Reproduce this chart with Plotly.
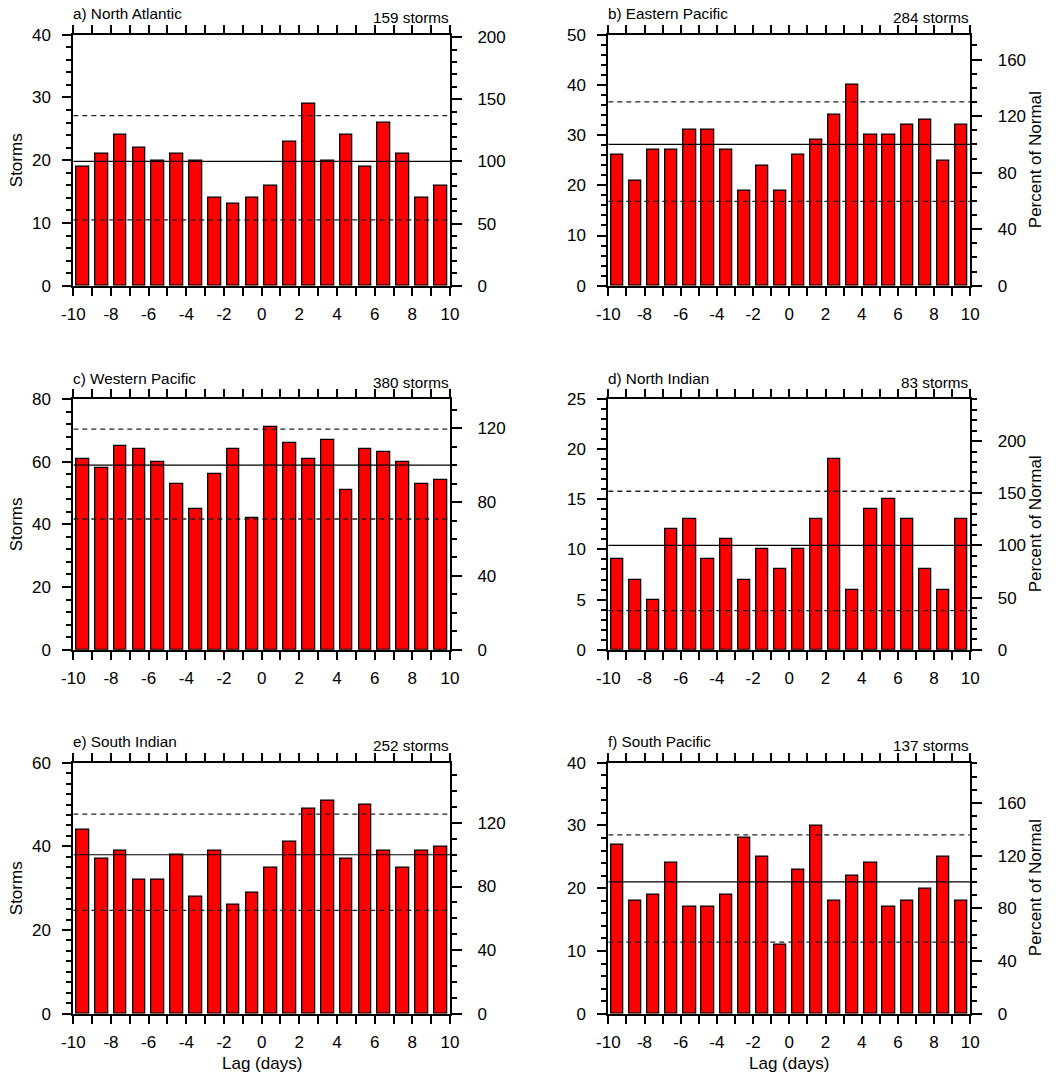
import plotly.graph_objects as go

# Lag bins (days) - each bar covers one day, centred on the half-day
lag_bins = [-9.5, -8.5, -7.5, -6.5, -5.5, -4.5, -3.5, -2.5, -1.5, -0.5,
            0.5, 1.5, 2.5, 3.5, 4.5, 5.5, 6.5, 7.5, 8.5, 9.5]
lag_ticks = list(range(-10, 11))
lag_labels = [str(v) if v % 2 == 0 else "" for v in lag_ticks]

panel_titles = ["a) North Atlantic", "b) Eastern Pacific", "c) Western Pacific",
                "d) North Indian", "e) South Indian", "f) South Pacific"]
storm_totals = [159, 284, 380, 83, 252, 137]

# Storm counts per lag bin for each basin
counts_north_atlantic = [19, 21, 24, 22, 20, 21, 20, 14, 13, 14,
                         16, 23, 29, 20, 24, 19, 26, 21, 14, 16]
counts_eastern_pacific = [26, 21, 27, 27, 31, 31, 27, 19, 24, 19,
                          26, 29, 34, 40, 30, 30, 32, 33, 25, 32]
counts_western_pacific = [61, 58, 65, 64, 60, 53, 45, 56, 64, 42,
                          71, 66, 61, 67, 51, 64, 63, 60, 53, 54]
counts_north_indian = [9, 7, 5, 12, 13, 9, 11, 7, 10, 8,
                       10, 13, 19, 6, 14, 15, 13, 8, 6, 13]
counts_south_indian = [44, 37, 39, 32, 32, 38, 28, 39, 26, 29,
                       35, 41, 49, 51, 37, 50, 39, 35, 39, 40]
counts_south_pacific = [27, 18, 19, 24, 17, 17, 19, 28, 25, 11,
                        23, 30, 18, 22, 24, 17, 18, 20, 25, 18]

# Significance bounds (storms)
upper_bounds = [27.1, 36.6, 70.4, 15.8, 47.7, 28.5]
lower_bounds = [10.5, 16.8, 41.7, 3.9, 24.7, 11.4]

# Axis scales: left max, left major/minor step, right major/minor step
left_max = [40, 50, 80, 25, 60, 40]
left_major = [10, 10, 20, 5, 20, 10]
left_minor = [2, 2, 4, 1, 2.5, 2]
right_major = [50, 40, 40, 50, 40, 40]
right_minor = [10, 10, 10, 10, 10, 10]

all_counts = [counts_north_atlantic, counts_eastern_pacific, counts_western_pacific,
              counts_north_indian, counts_south_indian, counts_south_pacific]

W, H = 1063, 1074
col_x = [(73.3, 450.0), (608.3, 970.3)]
row_y = [(34.7, 285.7), (399.0, 649.7), (762.7, 1013.7)]

FONT = "Liberation Sans, Arial, Helvetica, sans-serif"
BAR_RED = "#ff0000"
TICK_SIZE = 17
TITLE_SIZE = 15.3

fig = go.Figure()
layout = dict(
    width=W, height=H,
    margin=dict(l=0, r=0, t=0, b=0, autoexpand=False),
    paper_bgcolor="white", plot_bgcolor="white",
    showlegend=False, bargap=0,
    font=dict(family=FONT, size=TICK_SIZE, color="black"),
)
annotations = []

for k in range(6):
    row, col = divmod(k, 2)
    x0, x1 = col_x[col]
    top, bot = row_y[row]
    counts = all_counts[k]
    mean = sum(counts) / len(counts)

    xid = "" if k == 0 else str(k + 1)
    yl = 2 * k + 1
    yr = 2 * k + 2
    xref = "x" + xid
    ylref = "y" if yl == 1 else f"y{yl}"
    yrref = f"y{yr}"

    fig.add_trace(go.Bar(
        x=lag_bins, y=counts, width=0.67,
        marker=dict(color=BAR_RED, line=dict(color="black", width=1.3)),
        xaxis=xref, yaxis=ylref, hoverinfo="x+y",
    ))
    # climatological mean and significance bounds
    fig.add_trace(go.Scatter(
        x=[-10, 10], y=[mean, mean], mode="lines",
        line=dict(color="black", width=1.2),
        xaxis=xref, yaxis=ylref, hoverinfo="skip",
    ))
    for bound in (upper_bounds[k], lower_bounds[k]):
        fig.add_trace(go.Scatter(
            x=[-10, 10], y=[bound, bound], mode="lines",
            line=dict(color="#222222", width=1.3, dash="5px,4px"),
            xaxis=xref, yaxis=ylref, hoverinfo="skip",
        ))
    # invisible trace to activate the right-hand percent axis
    fig.add_trace(go.Scatter(
        x=[-10], y=[0], mode="markers", marker=dict(opacity=0),
        xaxis=xref, yaxis=yrref, hoverinfo="skip",
    ))

    layout["xaxis" + xid] = dict(
        domain=[x0 / W, x1 / W], range=[-10, 10], anchor=ylref, automargin=False,
        tickmode="array", tickvals=lag_ticks, ticktext=lag_labels,
        ticks="outside", ticklen=8, tickwidth=1.5, tickcolor="black",
        showline=True, linewidth=2, linecolor="black", mirror="ticks",
        showgrid=False, zeroline=False,
        tickfont=dict(family=FONT, size=TICK_SIZE), ticklabelstandoff=4,
    )
    layout[f"yaxis{yl}"] = dict(
        domain=[1 - bot / H, 1 - top / H], range=[0, left_max[k]], anchor=xref,
        automargin=False, tick0=0, dtick=left_major[k],
        ticks="outside", ticklen=9, tickwidth=1.5, tickcolor="black",
        minor=dict(dtick=left_minor[k], tick0=0, ticks="outside", ticklen=5,
                   tickwidth=1.5, tickcolor="black", showgrid=False),
        showline=True, linewidth=2, linecolor="black",
        showgrid=False, zeroline=False,
        tickfont=dict(family=FONT, size=TICK_SIZE), ticklabelstandoff=8,
    )
    layout[f"yaxis{yr}"] = dict(
        overlaying=ylref, side="right", anchor=xref, automargin=False,
        range=[0, left_max[k] / mean * 100],
        tick0=0, dtick=right_major[k],
        ticks="outside", ticklen=10, tickwidth=1.5, tickcolor="black",
        minor=dict(dtick=right_minor[k], tick0=0, ticks="outside", ticklen=5,
                   tickwidth=1.5, tickcolor="black", showgrid=False),
        showline=True, linewidth=2, linecolor="black",
        showgrid=False, zeroline=False,
        tickfont=dict(family=FONT, size=TICK_SIZE), ticklabelstandoff=12,
    )

    # panel title and storm count
    annotations.append(dict(
        text=panel_titles[k], xref="paper", yref="paper",
        x=(x0 - 2) / W, y=1 - (top - 21) / H, xanchor="left", yanchor="middle",
        showarrow=False, font=dict(family=FONT, size=TITLE_SIZE),
    ))
    annotations.append(dict(
        text=f"{storm_totals[k]} storms", xref="paper", yref="paper",
        x=(x1 + 1) / W, y=1 - (top - 17) / H, xanchor="right", yanchor="middle",
        showarrow=False, font=dict(family=FONT, size=TITLE_SIZE),
    ))
    mid_y = 1 - (top + bot) / 2 / H
    if col == 0:
        annotations.append(dict(
            text="Storms", xref="paper", yref="paper",
            x=16 / W, y=mid_y, xanchor="center", yanchor="middle",
            textangle=-90, showarrow=False, font=dict(family=FONT, size=TICK_SIZE),
        ))
    else:
        annotations.append(dict(
            text="Percent of Normal", xref="paper", yref="paper",
            x=1035 / W, y=mid_y, xanchor="center", yanchor="middle",
            textangle=-90, showarrow=False, font=dict(family=FONT, size=TICK_SIZE),
        ))
    if row == 2:
        annotations.append(dict(
            text="Lag (days)", xref="paper", yref="paper",
            x=(x0 + x1) / 2 / W, y=1 - 1063 / H, xanchor="center", yanchor="middle",
            showarrow=False, font=dict(family=FONT, size=TICK_SIZE),
        ))

layout["annotations"] = annotations
fig.update_layout(**layout)
fig.write_html("out.html")
